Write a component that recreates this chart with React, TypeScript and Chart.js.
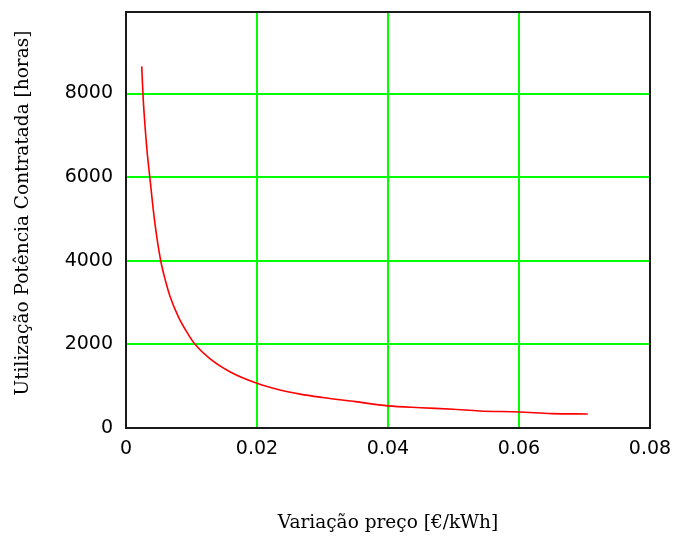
import React, { useEffect, useRef } from "react";
import { Chart, registerables } from "chart.js";

Chart.register(...registerables);

// Price variation [€/kWh]
const priceVariation = [
  0.0024, 0.0026, 0.0028, 0.0032, 0.0036, 0.0044, 0.0053, 0.0061, 0.0067,
  0.008, 0.0095, 0.0105, 0.0128, 0.016, 0.02, 0.0235, 0.0266, 0.03, 0.035,
  0.04, 0.045, 0.05, 0.054, 0.06, 0.065, 0.0705,
];
// Utilisation of contracted power [hours]
const usageHours = [
  8650, 7950, 7450, 6650, 6050, 4910, 4000, 3480, 3160, 2660, 2240, 2010,
  1660, 1335, 1070, 910, 810, 730, 630, 530, 486, 447, 407, 383, 345, 335,
];
const xTicks = [0, 0.02, 0.04, 0.06, 0.08];
const yTicks = [0, 2000, 4000, 6000, 8000];
const xTitle = "Variação preço [€/kWh]";
const yTitle = "Utilização Potência Contratada [horas]";

const W = 678;
const H = 538;

export default function App() {
  const ref = useRef<HTMLCanvasElement | null>(null);

  useEffect(() => {
    const canvas = ref.current;
    if (!canvas) return;

    const framePlugin = {
      id: "frameAndYTitle",
      afterDraw(chart: any) {
        const { ctx, chartArea } = chart;
        ctx.save();
        ctx.strokeStyle = "#1a1a1a";
        ctx.lineWidth = 2;
        ctx.strokeRect(
          chartArea.left,
          chartArea.top,
          chartArea.right - chartArea.left,
          chartArea.bottom - chartArea.top
        );
        ctx.restore();
        ctx.save();
        ctx.fillStyle = "#000";
        ctx.font = '18.5px "DejaVu Serif"';
        ctx.textAlign = "center";
        ctx.textBaseline = "middle";
        ctx.translate(23, 213);
        ctx.rotate(-Math.PI / 2);
        ctx.fillText(yTitle, 0, 0);
        ctx.restore();
      },
    };

    const chart = new Chart(canvas, {
      type: "scatter",
      data: {
        datasets: [
          {
            data: priceVariation.map((x, i) => ({ x, y: usageHours[i] })),
            showLine: true,
            borderColor: "#ff0000",
            borderWidth: 1.6,
            pointRadius: 0,
            cubicInterpolationMode: "monotone",
          },
        ],
      },
      options: {
        animation: false,
        responsive: false,
        maintainAspectRatio: false,
        layout: { padding: { left: 0, top: 12, right: 28, bottom: 0 } },
        plugins: {
          legend: { display: false },
          tooltip: { enabled: false },
        },
        scales: {
          x: {
            type: "linear",
            min: 0,
            max: 0.08,
            afterFit: (s: any) => {
              s.height = 110;
              s.paddingLeft = 0;
              s.paddingRight = 0;
            },
            afterBuildTicks: (s: any) => {
              s.ticks = xTicks.map((v) => ({ value: v }));
            },
            ticks: {
              color: "#000",
              font: { family: "DejaVu Sans", size: 19 },
              padding: 10,
              maxRotation: 0,
              callback: (v: any) => String(v),
            },
            grid: {
              color: "#00ff00",
              lineWidth: 2,
              tickLength: 0,
            },
            border: { display: false },
            title: {
              display: true,
              text: xTitle,
              color: "#000",
              font: { family: "DejaVu Serif", size: 18.5 },
              padding: { top: 0, bottom: 4 },
            },
          },
          y: {
            type: "linear",
            min: 0,
            max: 9950,
            afterFit: (s: any) => {
              s.width = 126;
              s.paddingTop = 0;
              s.paddingBottom = 0;
            },
            afterBuildTicks: (s: any) => {
              s.ticks = yTicks.map((v) => ({ value: v }));
            },
            ticks: {
              color: "#000",
              font: { family: "DejaVu Sans", size: 19 },
              padding: 13,
              callback: (v: any) => String(v),
            },
            grid: {
              color: "#00ff00",
              lineWidth: 2,
              tickLength: 0,
            },
            border: { display: false },
          },
        },
      },
      plugins: [framePlugin],
    });

    return () => chart.destroy();
  }, []);

  return (
    <canvas
      ref={ref}
      width={W}
      height={H}
      style={{ position: "fixed", left: 0, top: 0, width: W, height: H, background: "#fff" }}
    />
  );
}
